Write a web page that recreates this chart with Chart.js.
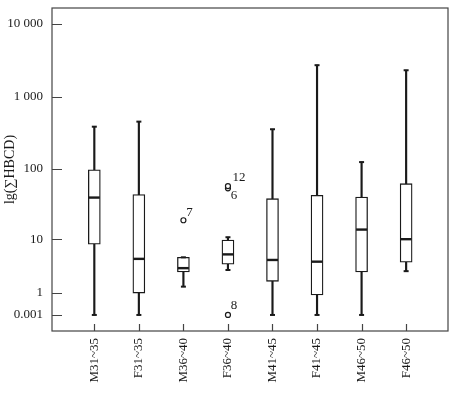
<!DOCTYPE html>
<html>
<head>
<meta charset="utf-8">
<script src="https://cdn.jsdelivr.net/npm/chart.js@4.4.0/dist/chart.umd.min.js"></script>
<style>
  html, body { margin: 0; padding: 0; background: #fff; }
  #wrap { width: 462px; height: 395px; }
</style>
</head>
<body>
<div id="wrap"><canvas id="boxChart"></canvas></div>
<script>
// data
const categories = ['M31~35','F31~35','M36~40','F36~40','M41~45','F41~45','M46~50','F46~50'];
const mins    = [0.001, 0.001, 1.45, 3.15, 0.001, 0.001, 0.001, 3.0];
const q1s     = [8.4, 1.0, 2.9, 4.0, 1.9, 0.88, 2.9, 4.3];
const medians = [40, 4.9, 3.4, 5.8, 4.7, 4.4, 13.9, 10];
const q3s     = [98, 44, 5.2, 9.7, 38.6, 43, 40.8, 62.6];
const maxs    = [385, 452, 5.2, 10.7, 355, 2700, 125, 2300];

const outlierCats   = [2, 3, 3, 3];
const outlierValues = [19, 54, 58, 0.001];
const outlierLabels = ['7', '12', '6', '8'];

const tickValues = [0.001, 1, 10, 100, 1000, 10000];
const tickLabels = ['0.001', '1', '10', '100', '1 000', '10 000'];

// axis is lg(x + 1)
const t = v => Math.log10(v + 1);

document.addEventListener("DOMContentLoaded", ()=>{

const ink = '#1a1a1a';
const fam = '"Liberation Serif", "Times New Roman", Times, serif';
const serif = {family: fam, size: 13};

const labelOffsets = [[6,-8],[11,-11],[6,10],[6,-9]];

const framePlugin = {
  id: 'frame',
  afterDraw(chart){
    const {ctx, chartArea:a, scales} = chart;
    ctx.save();
    ctx.strokeStyle = '#444';
    ctx.lineWidth = 1.2;
    ctx.strokeRect(a.left, a.top, a.right - a.left, a.bottom - a.top);
    // inward ticks
    ctx.beginPath();
    scales.y.ticks.forEach(tk=>{
      const y = Math.round(scales.y.getPixelForValue(tk.value)) + 0.5;
      ctx.moveTo(a.left, y); ctx.lineTo(a.left + 10, y);
    });
    scales.x.ticks.forEach(tk=>{
      const x = Math.round(scales.x.getPixelForValue(tk.value)) + 0.5;
      ctx.moveTo(x, a.bottom); ctx.lineTo(x, a.bottom - 7);
    });
    ctx.stroke();
    ctx.restore();
  },
  afterDatasetsDraw(chart){
    const meta = chart.getDatasetMeta(0);
    const ctx = chart.ctx;
    ctx.save();
    ctx.fillStyle = ink;
    ctx.font = '13px ' + fam;
    ctx.textAlign = 'center';
    ctx.textBaseline = 'middle';
    meta.data.forEach((pt, i)=>{
      const o = labelOffsets[i];
      ctx.fillText(outlierLabels[i], pt.x + o[0], pt.y + o[1]);
    });
    ctx.restore();
  }
};

new Chart(document.getElementById('boxChart'), {
  type: 'bar',
  data: {
    datasets: [
      {
        type: 'scatter',
        label: 'outliers',
        data: outlierCats.map((c,i)=>({x:c, y:t(outlierValues[i])})),
        pointStyle: 'circle',
        pointRadius: 2.5,
        backgroundColor: '#fff',
        borderColor: ink,
        borderWidth: 1.2
      },
      {
        type: 'scatter',
        label: 'median',
        data: medians.map((v,i)=>({x:i, y:t(v)})),
        pointStyle: 'line',
        pointRadius: 5.5,
        borderColor: ink,
        borderWidth: 2.4
      },
      {
        type: 'scatter',
        label: 'caps',
        data: mins.map((v,i)=>({x:i, y:t(v)})).concat(maxs.map((v,i)=>({x:i, y:t(v)}))),
        pointStyle: 'line',
        pointRadius: 2.5,
        borderColor: ink,
        borderWidth: 2
      },
      {
        label: 'box',
        data: q1s.map((v,i)=>({x:i, y:[t(v), t(q3s[i])]})),
        backgroundColor: '#fff',
        borderColor: ink,
        borderWidth: 1.3,
        borderSkipped: false,
        barThickness: 12,
        grouped: false
      },
      {
        label: 'whisker',
        data: mins.map((v,i)=>({x:i, y:[t(v), t(maxs[i])]})),
        backgroundColor: ink,
        borderWidth: 0,
        barThickness: 1.5,
        grouped: false
      }
    ]
  },
  options: {
    responsive: true,
    maintainAspectRatio: false,
    animation: false,
    events: [],
    layout: {padding: {top: 8, right: 14, left: 0, bottom: 0}},
    plugins: {
      legend: {display: false},
      tooltip: {enabled: false}
    },
    scales: {
      x: {
        type: 'linear',
        offset: false,
        min: -0.95,
        max: 7.94,
        grid: {display: false, drawTicks: false, offset: false},
        border: {display: false},
        afterBuildTicks: s => { s.ticks = categories.map((c,i)=>({value:i})); },
        afterFit: s => { s.height = 64; s.paddingLeft = 0; s.paddingRight = 0; },
        ticks: {
          autoSkip: false,
          minRotation: 90,
          maxRotation: 90,
          padding: 7,
          color: ink,
          font: serif,
          callback: (v, i) => categories[i]
        }
      },
      y: {
        type: 'linear',
        min: -0.22,
        max: 4.217,
        grid: {display: false, drawTicks: false},
        border: {display: false},
        afterBuildTicks: s => { s.ticks = tickValues.map(v=>({value:t(v)})); },
        afterFit: s => { s.width = 52; s.paddingTop = 0; s.paddingBottom = 0; },
        ticks: {
          padding: 9,
          color: ink,
          font: serif,
          callback: (v, i) => tickLabels[i]
        },
        title: {
          display: true,
          text: 'lg(∑HBCD)',
          color: ink,
          padding: {top: 2, bottom: 0},
          font: {family: fam, size: 14}
        }
      }
    }
  },
  plugins: [framePlugin]
});

});
</script>
</body>
</html>
